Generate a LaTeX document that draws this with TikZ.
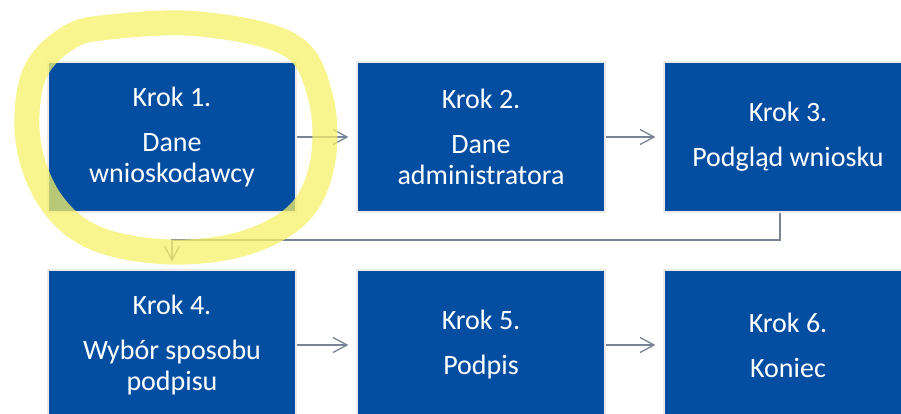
\documentclass[tikz,border=0pt]{standalone}
\usepackage{fontspec}
\setmainfont{Carlito}
\usetikzlibrary{arrows.meta}
\definecolor{boxblue}{RGB}{4,78,162}
\definecolor{linegray}{RGB}{120,132,150}
\definecolor{hiyellow}{RGB}{246,242,105}
\tikzset{
  stepbox/.style={fill=boxblue, draw=black!8, line width=1.2pt, minimum width=248pt, minimum height=150pt,
    inner sep=0pt, text=white, align=center, font=\fontsize{28}{31}\selectfont},
  conn/.style={draw=linegray, line width=1.3pt, -{Straight Barb[length=14pt,width=15pt,line width=1.3pt]}, shorten >=8pt}
}
\begin{document}
\begin{tikzpicture}[x=1pt,y=-1pt]
\useasboundingbox (0,0) rectangle (901,414);
\clip (0,0) rectangle (901,414);
\fill[white] (0,0) rectangle (901,414);
\node[stepbox] (b1) at (172,137) {Krok 1.\\[14pt]Dane\\wnioskodawcy};
\node[stepbox] (b2) at (481,137) {Krok 2.\\[14pt]Dane\\administratora};
\node[stepbox] (b3) at (788,137) {Krok 3.\\[14pt]Podgląd wniosku};
\node[stepbox] (b4) at (172,345) {Krok 4.\\[14pt]Wybór sposobu\\podpisu};
\node[stepbox] (b5) at (481,345) {Krok 5.\\[14pt]Podpis};
\node[stepbox] (b6) at (788,345) {Krok 6.\\[14pt]Koniec};
\coordinate (tr) at (780,240);
\coordinate (tl) at (172,240);
\draw[conn] (b1.east) -- (b2.west);
\draw[conn] (b2.east) -- (b3.west);
\draw[conn] (b4.east) -- (b5.west);
\draw[conn] (b5.east) -- (b6.west);
\draw[conn] (b3.south -| tr) -- (tr) -- (tl) -- (b4.north -| tl);
\draw[hiyellow, opacity=0.75, line width=25pt, line cap=round]
  plot[smooth cycle, tension=0.6] coordinates {(110,27) (200,24) (290,45) (320,95) (323,160) (300,212) (245,243) (170,252) (95,238) (50,200) (28,140) (34,75) (68,38)};
\end{tikzpicture}
\end{document}
